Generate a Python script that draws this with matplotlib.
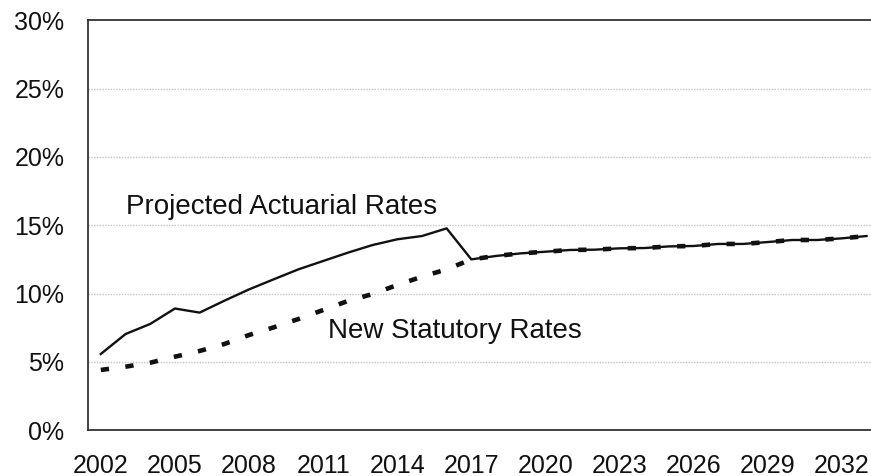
import matplotlib
matplotlib.use("Agg")
import matplotlib.pyplot as plt
from matplotlib.ticker import FuncFormatter

plt.rcParams['font.family'] = ['Liberation Sans', 'DejaVu Sans']

years = list(range(2002, 2034))
actuarial = [5.57, 7.03, 7.77, 8.9, 8.6, 9.47, 10.3, 11.04, 11.77, 12.38, 12.99,
             13.55, 13.97, 14.21, 14.77, 12.5, 12.75, 12.94, 13.06, 13.19, 13.21,
             13.31, 13.33, 13.45, 13.48, 13.63, 13.63, 13.77, 13.92, 13.92, 14.04, 14.21]
statutory = [4.40, 4.64, 4.93, 5.37, 5.79, 6.30, 6.96, 7.52, 8.13, 8.79, 9.45,
             9.96, 10.62, 11.23, 11.77, 12.5, 12.75, 12.94, 13.06, 13.19, 13.21,
             13.31, 13.33, 13.45, 13.48, 13.63, 13.63, 13.77, 13.92, 13.92, 14.04, 14.21]
tick_years = list(range(2002, 2033, 3))
y_ticks = [0, 5, 10, 15, 20, 25, 30]

fig = plt.figure(figsize=(8.71, 4.76), dpi=100)
ax = fig.add_axes([0.101, 0.0966, 0.899, 0.8604])

ax.plot(years, statutory, color='#111111', lw=3.3, linestyle=(0, (1.8, 3.6)),
        dash_capstyle='butt', zorder=3)
ax.plot(years, actuarial, color='#111111', lw=1.7, zorder=4)

ax.set_xlim(2001.48, 2033.18)
ax.set_ylim(0, 30)
ax.set_xticks(tick_years)
ax.set_yticks(y_ticks)
ax.yaxis.set_major_formatter(FuncFormatter(lambda v, p: f"{int(v)}%"))
ax.tick_params(axis='both', length=0, labelsize=18, colors='#111111')
ax.tick_params(axis='y', pad=17)
ax.tick_params(axis='x', pad=17)

for v in [5, 10, 15, 20, 25]:
    ax.axhline(v, color='#c4c4c4', lw=1.0, linestyle=(0, (1, 1)), zorder=1)

for s in ['left', 'bottom', 'top']:
    ax.spines[s].set_color('#333333')
    ax.spines[s].set_linewidth(1.3)
ax.spines['right'].set_visible(False)

ax.text(2003.0, 15.8, 'Projected Actuarial Rates', fontsize=20, color='#111111',
        ha='left', va='baseline')
ax.text(2011.2, 6.72, 'New Statutory Rates', fontsize=20, color='#111111',
        ha='left', va='baseline')

fig.savefig('out.png', dpi=100)
